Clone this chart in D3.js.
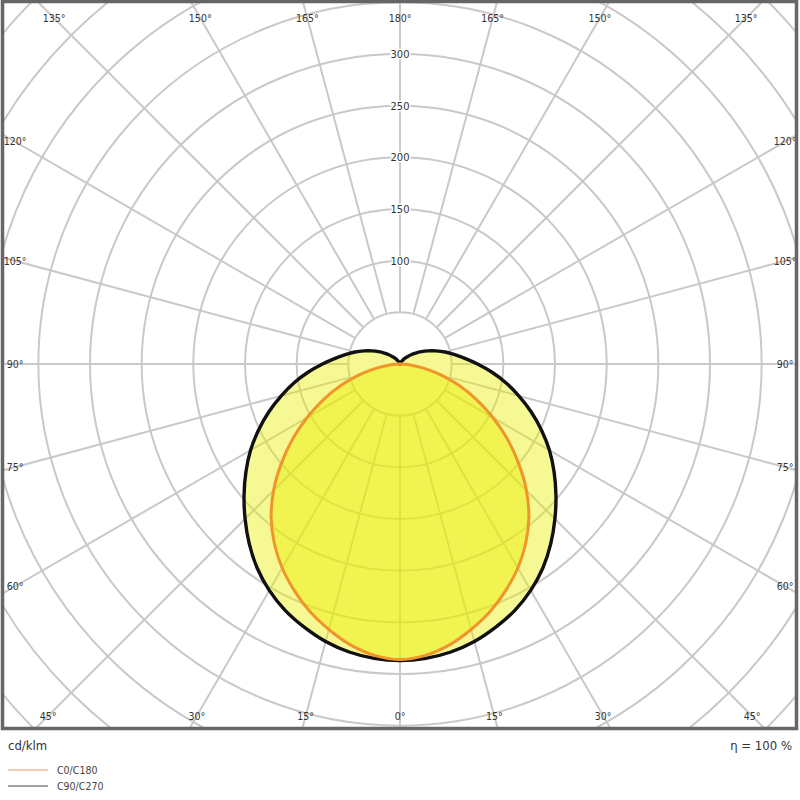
<!DOCTYPE html>
<html>
<head>
<meta charset="utf-8">
<script src="https://cdn.jsdelivr.net/npm/d3@7"></script>
<style>
  body { margin: 0; background: #fff; }
  svg text { font-family: "DejaVu Sans Condensed", "DejaVu Sans", sans-serif; }
</style>
</head>
<body>
<svg id="chart" width="800" height="800"></svg>
<script>
// gamma angles (0 = straight down), cd/klm
var gammas = [0,5,10,15,20,25,30,35,40,45,50,55,60,65,70,75,80,85,90,
              95,100,105,110,115,120,125,130,135,140,145,150,155,160,165,170,175,180];
var c0c180 = [286,283,276,266,255,242,228,212,194,173,150,127,104,82,61,41,23,9,0,
              0,0,0,0,0,0,0,0,0,0,0,0,0,0,0,0,0,0];
var c90c270 = [287,286,283,278,271,263,253,241,227,212,197,182,167,151,135,119,104,89,75,
               63,53,45,37,30,24,18.5,14,10,7,4.5,3,2,1.2,0.6,0.2,0,0];

var ringValues = [50,100,150,200,250,300,350,400,450,500];
var radialLabels = [100,150,200,250,300];
var spokeAngles = d3.range(0, 360, 15);
var angleLabels = [0,15,30,45,60,75,90,105,120,135,150,165,180];

var svg = d3.select("#chart");
var cx = 400, cy = 364;
var frame = {x0: 2.5, y0: 1.5, x1: 796.5, y1: 728.5};
var r = d3.scaleLinear().domain([0, 300]).range([0, 310]);

svg.append("clipPath").attr("id", "frameClip")
  .append("rect")
  .attr("x", frame.x0).attr("y", frame.y0)
  .attr("width", frame.x1 - frame.x0).attr("height", frame.y1 - frame.y0);

var plot = svg.append("g").attr("clip-path", "url(#frameClip)");
var grid = plot.append("g").attr("transform", "translate(" + cx + "," + cy + ")");

// rings
grid.selectAll("circle.ring")
  .data(ringValues)
  .enter().append("circle")
  .attr("class", "ring")
  .attr("r", function(d){ return r(d); })
  .attr("fill", "none")
  .attr("stroke", "#c9c9c9")
  .attr("stroke-width", 2);

// spokes, gamma measured from straight down
grid.selectAll("line.spoke")
  .data(spokeAngles)
  .enter().append("line")
  .attr("class", "spoke")
  .attr("x1", function(d){ return r(50) * Math.sin(d * Math.PI / 180); })
  .attr("y1", function(d){ return r(50) * Math.cos(d * Math.PI / 180); })
  .attr("x2", function(d){ return r(700) * Math.sin(d * Math.PI / 180); })
  .attr("y2", function(d){ return r(700) * Math.cos(d * Math.PI / 180); })
  .attr("stroke", "#c9c9c9")
  .attr("stroke-width", 2);

// closed curve: right half gamma 0..180, left half back down
function curvePoints(vals) {
  var pts = [];
  gammas.forEach(function(g, i){ pts.push([Math.PI - g * Math.PI / 180, r(vals[i])]); });
  for (var i = gammas.length - 2; i > 0; i--) {
    pts.push([Math.PI + gammas[i] * Math.PI / 180, r(vals[i])]);
  }
  return pts;
}
var radial = d3.lineRadial().curve(d3.curveCatmullRomClosed.alpha(0.5));

var curves = plot.append("g").attr("transform", "translate(" + cx + "," + cy + ")");
curves.append("path")
  .attr("d", radial(curvePoints(c90c270)))
  .attr("fill", "rgba(234,238,0,0.42)")
  .attr("stroke", "none");
curves.append("path")
  .attr("d", radial(curvePoints(c0c180)))
  .attr("fill", "rgba(234,238,0,0.45)")
  .attr("stroke", "none");
curves.append("path")
  .attr("d", radial(curvePoints(c90c270)))
  .attr("fill", "none")
  .attr("stroke", "#111")
  .attr("stroke-width", 3.4)
  .attr("stroke-linejoin", "round");
curves.append("path")
  .attr("d", radial(curvePoints(c0c180)))
  .attr("fill", "none")
  .attr("stroke", "#f0952a")
  .attr("stroke-width", 3)
  .attr("stroke-linejoin", "round");

// radial value labels along the upward axis
grid.selectAll("text.rlab")
  .data(radialLabels)
  .enter().append("text")
  .attr("class", "rlab")
  .attr("x", 0)
  .attr("y", function(d){ return -r(d); })
  .attr("dy", "0.35em")
  .attr("text-anchor", "middle")
  .attr("font-size", 11)
  .attr("fill", "#333")
  .attr("stroke", "#fff")
  .attr("stroke-width", 3)
  .attr("paint-order", "stroke")
  .text(function(d){ return d; });

// angle labels where each spoke meets an inset box
var inset = {x0: 15, y0: 18, x1: 785, y1: 716};
function labelPos(g, side) {
  var a = g * Math.PI / 180;
  var dx = side * Math.sin(a), dy = Math.cos(a);
  var t = Infinity;
  if (dx > 1e-9) t = Math.min(t, (inset.x1 - cx) / dx);
  if (dx < -1e-9) t = Math.min(t, (inset.x0 - cx) / dx);
  if (dy > 1e-9) t = Math.min(t, (inset.y1 - cy) / dy);
  if (dy < -1e-9) t = Math.min(t, (inset.y0 - cy) / dy);
  return [cx + t * dx, cy + t * dy];
}
var labelData = [];
angleLabels.forEach(function(g){
  labelData.push({g: g, side: -1});
  if (g !== 0 && g !== 180) labelData.push({g: g, side: 1});
});
svg.selectAll("text.alab")
  .data(labelData)
  .enter().append("text")
  .attr("class", "alab")
  .attr("x", function(d){ return labelPos(d.g, d.side)[0]; })
  .attr("y", function(d){ return labelPos(d.g, d.side)[1]; })
  .attr("dy", "0.35em")
  .attr("text-anchor", "middle")
  .attr("font-size", 10.5)
  .attr("fill", "#333")
  .text(function(d){ return d.g + "°"; });

// frame
svg.append("rect")
  .attr("x", frame.x0).attr("y", frame.y0)
  .attr("width", frame.x1 - frame.x0).attr("height", frame.y1 - frame.y0)
  .attr("fill", "none")
  .attr("stroke", "#666")
  .attr("stroke-width", 3.5);

// footer
svg.append("text")
  .attr("x", 8).attr("y", 750)
  .attr("font-size", 13).attr("fill", "#333")
  .text("cd/klm");
svg.append("text")
  .attr("x", 792).attr("y", 750)
  .attr("text-anchor", "end")
  .attr("font-size", 13).attr("fill", "#333")
  .text("η = 100 %");

var legendItems = ["C0/C180", "C90/C270"];
var legendColors = ["#f6cdb0", "#a3a3a3"];
var legend = svg.selectAll("g.legend")
  .data(legendItems)
  .enter().append("g")
  .attr("class", "legend")
  .attr("transform", function(d, i){ return "translate(8," + (770 + i * 16) + ")"; });
legend.append("line")
  .attr("x1", 0).attr("x2", 40).attr("y1", 0).attr("y2", 0)
  .attr("stroke", function(d, i){ return legendColors[i]; })
  .attr("stroke-width", 2);
legend.append("text")
  .attr("x", 49).attr("y", 4)
  .attr("font-size", 10.5).attr("fill", "#444")
  .text(function(d){ return d; });
</script>
</body>
</html>
